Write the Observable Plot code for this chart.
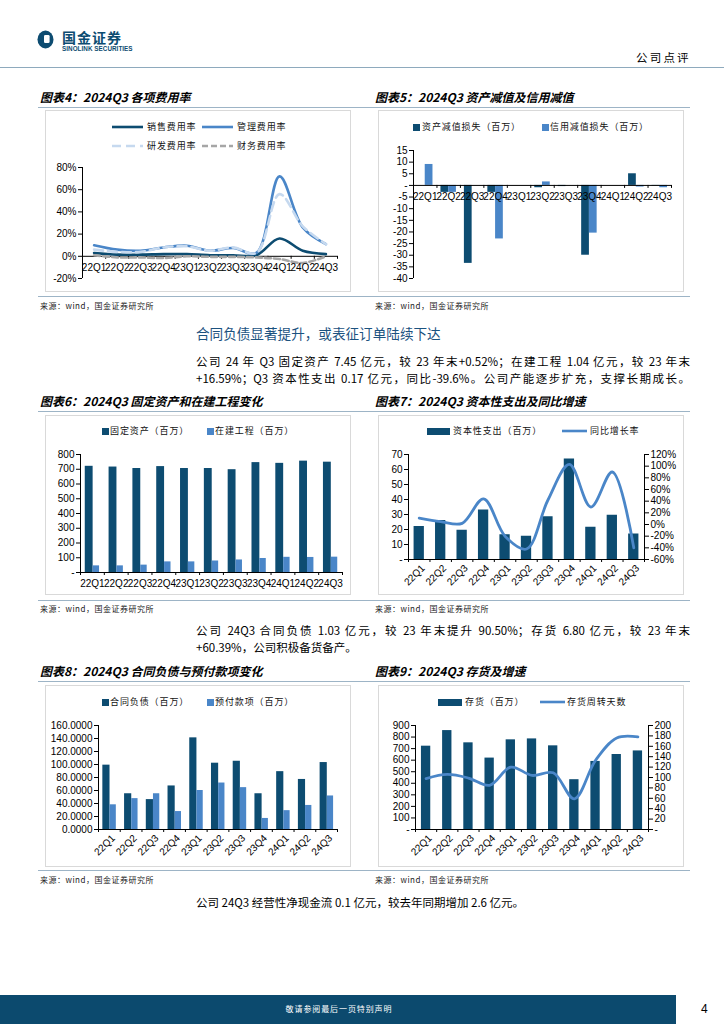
<!DOCTYPE html>
<html><head><meta charset="utf-8">
<script src="https://cdn.jsdelivr.net/npm/d3@7"></script>
<script src="https://cdn.jsdelivr.net/npm/@observablehq/plot@0.6"></script>
<style>
html,body{margin:0;padding:0;background:#fff;}
#page{position:relative;width:724px;height:1024px;overflow:hidden;font-family:"Noto Sans CJK SC","Noto Sans",sans-serif;color:#000;}
.a{position:absolute;white-space:nowrap;line-height:1;}
.ttl{font-weight:bold;font-style:italic;font-size:12px;}
.src{font-size:8px;color:#222;letter-spacing:0.5px;}
.leg{font-size:9px;letter-spacing:0.9px;color:#111;}
.para{position:absolute;width:494px;font-size:11.5px;line-height:1;text-align:justify;text-align-last:justify;white-space:nowrap;}
.hl{position:absolute;height:1px;background:#9db4c6;}
.box{position:absolute;border:1px solid #d9d9d9;box-sizing:border-box;}
svg.plot{position:absolute;overflow:visible;}
</style>
</head><body><div id="page"></div>
<script>
// ---------------- data ----------------
const quarters = ["22Q1","22Q2","22Q3","22Q4","23Q1","23Q2","23Q3","23Q4","24Q1","24Q2","24Q3"];
// 图表4 各项费用率 (%)
const salesRate = [3, 1.5, 1.5, 2, 2, 1, 1, 1, 16, 5, 2];
const adminRate = [10, 6, 5, 8, 9.5, 5, 7.5, 3, 72, 26, 11];
const rdRate    = [6, 4, 4, 8, 9, 5, 8, 3, 56, 27, 11];
const finRate   = [1, -1, -1, -1.5, 0, -0.5, -0.5, -1, -2.5, -6, 0];
// 图表5 资产减值/信用减值 (百万)
const assetImpair  = [0, -3, -33.5, -3, 0, -1, -0.5, -30, 0, 5, -0.2];
const creditImpair = [9, -3, 0, -23, 0, 1.5, 0, -20.5, 0, -0.7, -1];
// 图表6 固定资产/在建工程 (百万)
const fixedAssets  = [720, 715, 705, 718, 705, 705, 697, 745, 740, 755, 748];
const construction = [45, 45, 50, 72, 72, 78, 85, 95, 103, 102, 104];
// 图表7 资本性支出 (百万) / 同比增长率 (%)
const capex    = [22, 26, 19.5, 33, 16.5, 15.5, 28.5, 67, 21.5, 29.5, 17];
const capexYoY = [11, 5, 2, 44, -20, -42, 42, 103, 30, 90, -40];
// 图表8 合同负债/预付款项 (百万)
const contractLiab = [99, 55, 46, 67, 141, 102, 105, 55, 89, 77, 103];
const prepay       = [38, 47.5, 55, 27.6, 60, 71.5, 64.4, 17, 29, 37, 51.6];
// 图表9 存货 (百万) / 存货周转天数
const inventory = [721, 856, 750, 618, 776, 784, 724, 431, 589, 649, 680];
const invDays   = [98, 106, 99, 85, 120, 104, 109, 59, 133, 176, 178];
// tick labels
const ticks4 = [-20, 0, 20, 40, 60, 80];
const ticks5 = [-40, -35, -30, -25, -20, -15, -10, -5, 0, 5, 10, 15];
const ticks6 = [0, 100, 200, 300, 400, 500, 600, 700, 800];
const ticks7L = [0, 10, 20, 30, 40, 50, 60, 70];
const ticks7R = [-60, -40, -20, 0, 20, 40, 60, 80, 100, 120];
const ticks8 = [0, 20, 40, 60, 80, 100, 120, 140, 160];
const ticks9L = [0, 100, 200, 300, 400, 500, 600, 700, 800, 900];
const ticks9R = [0, 20, 40, 60, 80, 100, 120, 140, 160, 180, 200];

// ---------------- colours ----------------
const DARK = "#0d4c71", MID = "#4a86c8", LIGHT = "#c6d9ef", GRAY = "#a6a6a6";
const FONT = "'Liberation Sans', Arial, sans-serif";

const page = document.getElementById("page");
function div(cls, html, x, y, extra) {
  const d = document.createElement("div");
  d.className = cls; d.innerHTML = html;
  d.style.left = x + "px"; d.style.top = y + "px";
  if (extra) Object.assign(d.style, extra);
  page.appendChild(d); return d;
}
function hline(x1, x2, y, color, h) {
  const d = document.createElement("div"); d.className = "hl";
  d.style.left = x1 + "px"; d.style.width = (x2 - x1) + "px"; d.style.top = y + "px";
  if (color) d.style.background = color; if (h) d.style.height = h + "px";
  page.appendChild(d);
}
function box(x, y, w, h) { const d = div("box", "", x, y); d.style.width = w + "px"; d.style.height = h + "px"; }
function legSquare(x, y, color, w, h) {
  const d = div("a", "", x, y - h / 2); d.style.width = w + "px"; d.style.height = h + "px"; d.style.background = color;
}
function legLine(x, y, w, color, dash) {
  const s = `<svg width="${w}" height="6" style="display:block"><line x1="0" y1="3" x2="${w}" y2="3" stroke="${color}" stroke-width="2.6" ${dash ? `stroke-dasharray="${dash}"` : ""}/></svg>`;
  div("a", s, x, y - 3);
}
function legText(x, y, t) { div("a leg", t, x, y - 5); }
function place(svg, x, y) { svg.classList.add("plot"); svg.style.left = x + "px"; svg.style.top = y + "px"; page.appendChild(svg); }

const idx = quarters.map((_, i) => i);
const bounds = d3.range(quarters.length + 1).map(i => i - 0.5);
const style = {fontFamily: FONT, fontSize: "10px", color: "#000", background: "transparent", overflow: "visible"};

function frameY(yDomain, plotH) { return (yDomain[1] - yDomain[0]) / plotH; }

// ---------------- header ----------------
div("a", `<svg width="17" height="19"><ellipse cx="8.5" cy="9.5" rx="8" ry="9" fill="${DARK}"/><rect x="7" y="5" width="5.6" height="8" rx="1.3" fill="#fff"/></svg>`, 37, 30);
div("a", "国金证券", 62, 30, {fontSize: "14px", fontWeight: "bold", color: DARK, letterSpacing: "1px"});
div("a", "SINOLINK SECURITIES", 62, 46, {fontSize: "6.3px", fontWeight: "bold", color: DARK, fontFamily: FONT, letterSpacing: "0.05px"});
div("a", "公司点评", 636, 52, {fontSize: "11.5px", letterSpacing: "2.2px"});
hline(0, 724, 67, "#8eaabd");

// ---------------- row 1 ----------------
div("a ttl", "图表4：2024Q3 各项费用率", 40, 91);
div("a ttl", "图表5：2024Q3 资产减值及信用减值", 375, 91);
hline(38, 690, 107);
box(45, 110, 306, 182);
box(378, 110, 306, 182);
hline(38, 690, 296);
div("a src", "来源：wind，国金证券研究所", 40, 302);
div("a src", "来源：wind，国金证券研究所", 375, 302);

// chart 4 legend
legLine(112, 127, 31, DARK); legText(147, 127, "销售费用率");
legLine(202, 127, 31, MID); legText(237, 127, "管理费用率");
legLine(112, 146, 31, LIGHT, "9,5"); legText(147, 146, "研发费用率");
legLine(202, 146, 31, GRAY, "6,3"); legText(237, 146, "财务费用率");

{
  const H = 140, mt = 15, mb = 14, yd = [-20, 80];
  const u = frameY(yd, H - mt - mb);
  const c = Plot.plot({
    width: 304, height: H, marginLeft: 36, marginRight: 13, marginTop: mt, marginBottom: mb,
    x: {domain: [-0.5, 10.5], axis: null}, y: {domain: yd, axis: null}, style,
    marks: [
      Plot.ruleX([-0.5], {stroke: "#000"}),
      Plot.axisY({ticks: ticks4, tickFormat: d => d + "%", tickSize: 4, tickPadding: 2, stroke: "#000"}),
      Plot.ruleY([0], {stroke: "#000"}),
      Plot.ruleX(bounds, {x: d => d, y1: 0, y2: -3 * u, stroke: "#000"}),
      Plot.line(idx, {x: i => i, y: i => salesRate[i], stroke: DARK, strokeWidth: 2.6, curve: "catmull-rom"}),
      Plot.line(idx, {x: i => i, y: i => adminRate[i], stroke: MID, strokeWidth: 2.6, curve: "catmull-rom"}),
      Plot.line(idx, {x: i => i, y: i => rdRate[i], stroke: LIGHT, strokeWidth: 2.6, strokeDasharray: "9,5", curve: "catmull-rom"}),
      Plot.line(idx, {x: i => i, y: i => finRate[i], stroke: GRAY, strokeWidth: 2.6, strokeDasharray: "6,3", curve: "catmull-rom"}),
      Plot.text(idx, {x: i => i, y: () => 0, text: i => quarters[i], dy: 11, fontSize: 10})
    ]
  });
  place(c, 46, 152);
}

// chart 5 legend
legSquare(413, 127, DARK, 7, 7); legText(422, 127, "资产减值损失（百万）");
legSquare(542, 127, MID, 7, 7); legText(550, 127, "信用减值损失（百万）");
{
  const H = 150, mt = 10, mb = 12, yd = [-40, 15];
  const u = frameY(yd, H - mt - mb);
  const c = Plot.plot({
    width: 306, height: H, marginLeft: 35, marginRight: 13, marginTop: mt, marginBottom: mb,
    x: {domain: [-0.5, 10.5], axis: null}, y: {domain: yd, axis: null}, style,
    marks: [
      Plot.rect(idx, {x1: i => i - 0.33, x2: i => i, y1: 0, y2: i => assetImpair[i], fill: DARK}),
      Plot.rect(idx, {x1: i => i, x2: i => i + 0.33, y1: 0, y2: i => creditImpair[i], fill: MID}),
      Plot.ruleX([-0.5], {stroke: "#000"}),
      Plot.axisY({ticks: ticks5, tickFormat: d => d === 0 ? "-" : d, tickSize: 4, tickPadding: 2, stroke: "#000"}),
      Plot.ruleY([0], {stroke: "#000"}),
      Plot.ruleX(bounds, {x: d => d, y1: 0, y2: -3 * u, stroke: "#000"}),
      Plot.text(idx, {x: i => i, y: () => 0, text: i => quarters[i], dy: 11, fontSize: 10})
    ]
  });
  place(c, 378, 140);
}

// ---------------- text block 1 ----------------
div("a", "合同负债显著提升，或表征订单陆续下达", 196, 327, {fontSize: "13.6px", color: "#1b527f"});
div("para", "公司 24 年 Q3 固定资产 7.45 亿元，较 23 年末+0.52%；在建工程 1.04 亿元，较 23 年末", 196, 356);
div("para", "+16.59%；Q3 资本性支出 0.17 亿元，同比-39.6%。公司产能逐步扩充，支撑长期成长。", 196, 373);

// ---------------- row 2 ----------------
div("a ttl", "图表6：2024Q3 固定资产和在建工程变化", 40, 395);
div("a ttl", "图表7：2024Q3 资本性支出及同比增速", 375, 395);
hline(38, 690, 411);
box(45, 415, 306, 180);
box(378, 415, 306, 180);
hline(38, 690, 600);
div("a src", "来源：wind，国金证券研究所", 40, 605);
div("a src", "来源：wind，国金证券研究所", 375, 605);

legSquare(102, 431, DARK, 7, 7); legText(110, 431, "固定资产（百万）");
legSquare(207, 431, MID, 7, 7); legText(215, 431, "在建工程（百万）");
{
  const H = 155, mt = 14, mb = 23, yd = [0, 800];
  const u = frameY(yd, H - mt - mb);
  const c = Plot.plot({
    width: 306, height: H, marginLeft: 35, marginRight: 9, marginTop: mt, marginBottom: mb,
    x: {domain: [-0.5, 10.5], axis: null}, y: {domain: yd, axis: null}, style,
    marks: [
      Plot.rect(idx, {x1: i => i - 0.3, x2: i => i + 0.03, y1: 0, y2: i => fixedAssets[i], fill: DARK}),
      Plot.rect(idx, {x1: i => i + 0.03, x2: i => i + 0.3, y1: 0, y2: i => construction[i], fill: MID}),
      Plot.ruleX([-0.5], {stroke: "#000"}),
      Plot.axisY({ticks: ticks6, tickFormat: d => d === 0 ? "-" : d, tickSize: 4, tickPadding: 2, stroke: "#000"}),
      Plot.ruleY([0], {stroke: "#000"}),
      Plot.ruleX(bounds, {x: d => d, y1: 0, y2: -3 * u, stroke: "#000"}),
      Plot.text(idx, {x: i => i, y: () => 0, text: i => quarters[i], dy: 11, fontSize: 10})
    ]
  });
  place(c, 45, 440);
}

legSquare(427, 431, DARK, 23, 7); legText(453, 431, "资本性支出（百万）");
legLine(562, 431, 25, MID); legText(590, 431, "同比增长率");
{
  const H = 155, mt = 14, mb = 36, yd = [0, 70];
  const u = frameY(yd, H - mt - mb);
  const toL = v => (v + 60) * 70 / 180;
  const c = Plot.plot({
    width: 306, height: H, marginLeft: 30, marginRight: 40, marginTop: mt, marginBottom: mb,
    x: {domain: [-0.5, 10.5], axis: null}, y: {domain: yd, axis: null}, style,
    marks: [
      Plot.rect(idx, {x1: i => i - 0.24, x2: i => i + 0.24, y1: 0, y2: i => capex[i], fill: DARK}),
      Plot.ruleX([-0.5, 10.5], {stroke: "#000"}),
      Plot.axisY({ticks: ticks7L, tickFormat: d => d === 0 ? "-" : d, tickSize: 4, tickPadding: 2, stroke: "#000"}),
      Plot.axisY({anchor: "right", ticks: ticks7R.map(toL), tickFormat: p => Math.round(p * 180 / 70 - 60) + "%", tickSize: 4, tickPadding: 2, stroke: "#000"}),
      Plot.ruleY([0], {stroke: "#000"}),
      Plot.ruleX(bounds, {x: d => d, y1: 0, y2: -3 * u, stroke: "#000"}),
      Plot.line(idx, {x: i => i, y: i => toL(capexYoY[i]), stroke: MID, strokeWidth: 2.8, curve: "catmull-rom"}),
      Plot.text(idx, {x: i => i, y: () => 0, text: i => quarters[i], rotate: -45, textAnchor: "end", dx: 4, dy: 7, fontSize: 10})
    ]
  });
  place(c, 378, 440);
}

// ---------------- text block 2 ----------------
div("para", "公司 24Q3 合同负债 1.03 亿元，较 23 年末提升 90.50%；存货 6.80 亿元，较 23 年末", 196, 625);
div("a", "+60.39%，公司积极备货备产。", 196, 642, {fontSize: "11.5px"});

// ---------------- row 3 ----------------
div("a ttl", "图表8：2024Q3 合同负债与预付款项变化", 40, 665);
div("a ttl", "图表9：2024Q3 存货及增速", 375, 665);
hline(38, 690, 681);
box(45, 685, 306, 182);
box(378, 685, 306, 182);
hline(38, 690, 870);
div("a src", "来源：wind，国金证券研究所", 40, 876);
div("a src", "来源：wind，国金证券研究所", 375, 876);

legSquare(102, 702, DARK, 7, 7); legText(110, 702, "合同负债（百万）");
legSquare(207, 702, MID, 7, 7); legText(215, 702, "预付款项（百万）");
{
  const H = 157, mt = 15, mb = 38, yd = [0, 160];
  const u = frameY(yd, H - mt - mb);
  const c = Plot.plot({
    width: 306, height: H, marginLeft: 53, marginRight: 14, marginTop: mt, marginBottom: mb,
    x: {domain: [-0.5, 10.5], axis: null}, y: {domain: yd, axis: null}, style,
    marks: [
      Plot.rect(idx, {x1: i => i - 0.3, x2: i => i + 0.03, y1: 0, y2: i => contractLiab[i], fill: DARK}),
      Plot.rect(idx, {x1: i => i + 0.03, x2: i => i + 0.32, y1: 0, y2: i => prepay[i], fill: MID}),
      Plot.ruleX([-0.5], {stroke: "#000"}),
      Plot.axisY({ticks: ticks8, tickFormat: d => d.toFixed(4), tickSize: 4, tickPadding: 2, stroke: "#000"}),
      Plot.ruleY([0], {stroke: "#000"}),
      Plot.ruleX(bounds, {x: d => d, y1: 0, y2: -3 * u, stroke: "#000"}),
      Plot.text(idx, {x: i => i, y: () => 0, text: i => quarters[i], rotate: -45, textAnchor: "end", dx: 4, dy: 7, fontSize: 10})
    ]
  });
  place(c, 45, 710);
}

legSquare(438, 702, DARK, 24, 7); legText(465, 702, "存货（百万）");
legLine(540, 702, 25, MID); legText(567, 702, "存货周转天数");
{
  const H = 157, mt = 15, mb = 38, yd = [0, 900];
  const u = frameY(yd, H - mt - mb);
  const toL = v => v * 4.5;
  const c = Plot.plot({
    width: 306, height: H, marginLeft: 37, marginRight: 36, marginTop: mt, marginBottom: mb,
    x: {domain: [-0.5, 10.5], axis: null}, y: {domain: yd, axis: null}, style,
    marks: [
      Plot.rect(idx, {x1: i => i - 0.22, x2: i => i + 0.22, y1: 0, y2: i => inventory[i], fill: DARK}),
      Plot.ruleX([-0.5, 10.5], {stroke: "#000"}),
      Plot.axisY({ticks: ticks9L, tickFormat: d => d === 0 ? "-" : d, tickSize: 4, tickPadding: 2, stroke: "#000"}),
      Plot.axisY({anchor: "right", ticks: ticks9R.map(toL), tickFormat: p => { const v = Math.round(p / 4.5); return v === 0 ? "-" : v; }, tickSize: 4, tickPadding: 2, stroke: "#000"}),
      Plot.ruleY([0], {stroke: "#000"}),
      Plot.ruleX(bounds, {x: d => d, y1: 0, y2: -3 * u, stroke: "#000"}),
      Plot.line(idx, {x: i => i, y: i => toL(invDays[i]), stroke: MID, strokeWidth: 2.8, curve: "catmull-rom"}),
      Plot.text(idx, {x: i => i, y: () => 0, text: i => quarters[i], rotate: -45, textAnchor: "end", dx: 4, dy: 7, fontSize: 10})
    ]
  });
  place(c, 378, 710);
}

// ---------------- text block 3 ----------------
div("a", "公司 24Q3 经营性净现金流 0.1 亿元，较去年同期增加 2.6 亿元。", 196, 897, {fontSize: "11.5px"});

// ---------------- footer ----------------
div("a", "", 0, 995, {width: "676px", height: "29px", background: "#0c4a6e"});
div("a", "敬请参阅最后一页特别声明", 339, 1005, {fontSize: "8px", color: "#fff", letterSpacing: "0.9px", transform: "translateX(-50%)"});
div("a", "4", 701, 1003, {fontSize: "12px", fontFamily: FONT});
</script>
</body></html>
